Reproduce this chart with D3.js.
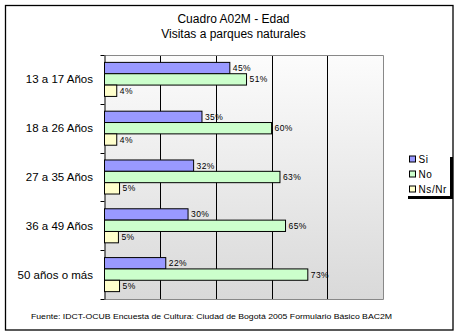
<!DOCTYPE html>
<html><head><meta charset="utf-8">
<script src="https://cdn.jsdelivr.net/npm/d3@7"></script>
<style>body{margin:0;background:#fff}svg{display:block}</style>
</head><body>
<script>
const categories = ["13 a 17 Años","18 a 26 Años","27 a 35 Años","36 a 49 Años","50 años o más"];
const seriesNames = ["Si","No","Ns/Nr"];
const siValues = [45,35,32,30,22];
const noValues = [51,60,63,65,73];
const nsValues = [4.4,4.4,5.4,5.0,5.4];
const xTicks = [0,20,40,60,80,100];
const colors = ["#9999ff","#ccffcc","#ffffcc"];
const titleLines = ["Cuadro A02M - Edad","Visitas a parques naturales"];
const sourceText = "Fuente: IDCT-OCUB Encuesta de Cultura: Ciudad de Bogotá 2005 Formulario Básico BAC2M";

const W=460,H=336;
const svg=d3.select("body").append("svg").attr("width",W).attr("height",H);
const font="Liberation Sans, Arial, sans-serif";

svg.append("rect").attr("x",5.5).attr("y",5.5).attr("width",447.5).attr("height",324.5)
  .attr("fill","#fff").attr("stroke","#000").attr("stroke-width",1.3);

const defs=svg.append("defs");
const g=defs.append("linearGradient").attr("id","bg").attr("x1",0).attr("y1",0).attr("x2",0).attr("y2",1);
g.append("stop").attr("offset","0%").attr("stop-color","#fcfcfc");
g.append("stop").attr("offset","100%").attr("stop-color","#d9d9d9");

const L=104.5,R=383,T=55,B=299;
const x=d3.scaleLinear().domain([0,100]).range([L,R]);
const y=d3.scaleBand().domain(categories).range([T,B]).padding(0);
const yi=d3.scaleBand().domain(seriesNames).range([0,y.bandwidth()]).paddingInner(0).paddingOuter(0.65);

svg.append("rect").attr("x",L).attr("y",T).attr("width",R-L).attr("height",B-T).attr("fill","url(#bg)");

// gridlines
svg.append("g").selectAll("line").data(xTicks.slice(1,-1)).join("line")
  .attr("x1",d=>Math.round(x(d))+0.5).attr("x2",d=>Math.round(x(d))+0.5).attr("y1",T).attr("y2",B)
  .attr("stroke","#000").attr("stroke-width",1);
// plot border top/right/bottom
svg.append("path").attr("d",`M${L},${T+0.5}H${R+0.5}V${B+0.5}H${L}`)
  .attr("fill","none").attr("stroke","#888").attr("stroke-width",1);

// left axis
const yAxis=d3.axisLeft(y).tickSize(0).tickFormat("");
const ag=svg.append("g").attr("transform",`translate(${L},0)`).call(yAxis);
ag.select(".domain").attr("stroke","#000");
const bounds=categories.map(c=>y(c)).concat([B]);
svg.append("g").selectAll("line").data(bounds).join("line")
  .attr("x1",L-4).attr("x2",L).attr("y1",d=>Math.round(d)+0.5).attr("y2",d=>Math.round(d)+0.5)
  .attr("stroke","#000");

const allSeries=[siValues,noValues,nsValues];
const fmt=d=>Math.round(d)+"%";
allSeries.forEach((vals,si)=>{
  const s=seriesNames[si];
  const gg=svg.append("g");
  gg.selectAll("rect").data(vals).join("rect")
    .attr("x",x(0)).attr("y",(d,i)=>y(categories[i])+yi(s))
    .attr("width",d=>x(d)-x(0)).attr("height",yi.bandwidth())
    .attr("fill",colors[si]).attr("stroke","#000").attr("stroke-width",1);
  gg.selectAll("text").data(vals).join("text")
    .attr("x",d=>x(d)+3).attr("y",(d,i)=>y(categories[i])+yi(s)+yi.bandwidth()/2)
    .attr("dy","0.35em").attr("font-family",font).attr("font-size",8.5).attr("letter-spacing",0.4)
    .text(fmt);
});

// category labels
svg.append("g").selectAll("text").data(categories).join("text")
  .attr("x",93).attr("y",d=>y(d)+yi("No")+yi.bandwidth()/2).attr("dy","0.35em")
  .attr("text-anchor","end").attr("font-family",font).attr("font-size",11.5).attr("fill","#000")
  .text(d=>d);

// titles
svg.append("g").selectAll("text").data(titleLines).join("text")
  .attr("x",233.5).attr("y",(d,i)=>23+i*15).attr("text-anchor","middle")
  .attr("font-family",font).attr("font-size",12).text(d=>d);

// legend
svg.append("rect").attr("x",408).attr("y",196).attr("width",45).attr("height",3).attr("fill","#000");
svg.append("rect").attr("x",450).attr("y",157).attr("width",3).attr("height",42).attr("fill","#000");
svg.append("rect").attr("x",405).attr("y",153).attr("width",45).attr("height",43).attr("fill","#fff");
const lg=svg.append("g").selectAll("g").data(seriesNames).join("g")
  .attr("transform",(d,i)=>`translate(409.5,${159+i*15})`);
lg.append("rect").attr("x",0).attr("y",-3).attr("width",6).attr("height",6)
  .attr("fill",(d,i)=>colors[i]).attr("stroke","#000");
lg.append("text").attr("x",9).attr("y",0).attr("dy","0.35em").attr("font-family",font)
  .attr("font-size",10).attr("letter-spacing",0.6).text(d=>d);

// source
svg.append("text").attr("x",31).attr("y",319).attr("font-family",font).attr("font-size",8)
  .attr("textLength",361).attr("lengthAdjust","spacingAndGlyphs").text(sourceText);
</script>
</body></html>
